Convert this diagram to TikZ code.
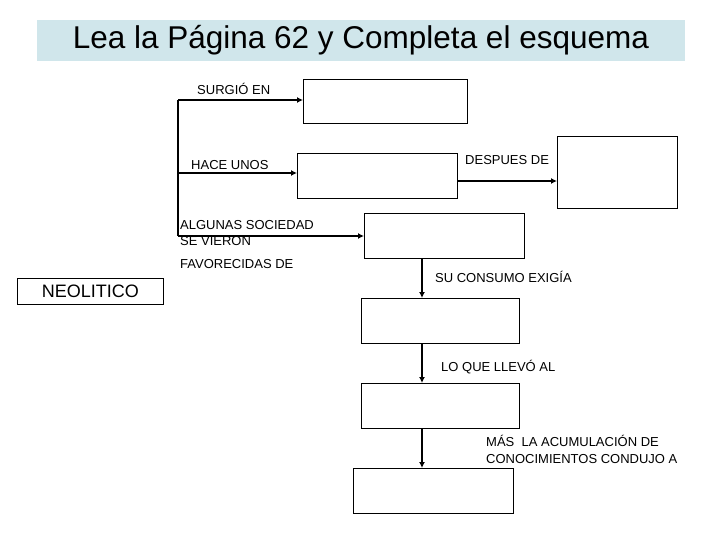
\documentclass[tikz,border=0pt]{standalone}
\usepackage{fontspec}
\setmainfont{Liberation Sans}
\usetikzlibrary{arrows.meta}
\begin{document}
\begin{tikzpicture}[x=1pt,y=-1pt,
  box/.style={draw,line width=0.8pt,inner sep=0pt,anchor=north west},
  lbl/.style={font=\fontsize{13}{15}\selectfont,inner sep=0pt,anchor=west},
  arr/.style={line width=1.3pt,-{Latex[length=6pt,width=6pt]}}]
\useasboundingbox (0,0) rectangle (720,540);
\node[box,fill={rgb,255:red,208;green,230;blue,235},draw={rgb,255:red,208;green,230;blue,235},minimum width=647pt,minimum height=40pt,font=\fontsize{31.5}{36}\selectfont] (title) at (37,20) {Lea la Página 62 y Completa el esquema};
\node[box,minimum width=164pt,minimum height=44pt] (b1) at (303,79) {};
\node[box,minimum width=160pt,minimum height=45pt] (b2) at (297,153) {};
\node[box,minimum width=120pt,minimum height=72pt] (b3) at (557,136) {};
\node[box,minimum width=160pt,minimum height=45pt] (b4) at (364,213) {};
\node[box,minimum width=158pt,minimum height=45pt] (b5) at (361,298) {};
\node[box,minimum width=158pt,minimum height=45pt] (b6) at (361,383) {};
\node[box,minimum width=160pt,minimum height=45pt] (b7) at (353,468) {};
\node[box,minimum width=146pt,minimum height=26pt,font=\fontsize{18}{20}\selectfont] (neo) at (17,278) {NEOLITICO};
\coordinate (t) at (178,100);
\coordinate (m) at (178,173);
\coordinate (e) at (178,236);
\draw[line width=1.3pt] (t) -- (e);
\draw[arr] (t) -- (b1.west |- t);
\draw[arr] (m) -- (b2.west |- m);
\draw[arr] (e) -- (b4.west |- e);
\draw[arr] (b2.east |- 0,181) -- (b3.west |- 0,181);
\draw[arr] (b4.south -| 422,0) -- (b5.north -| 422,0);
\draw[arr] (b5.south -| 422,0) -- (b6.north -| 422,0);
\draw[arr] (b6.south -| 422,0) -- (b7.north -| 422,0);
\node[lbl] (l1) at (197,89) {SURGIÓ EN};
\node[lbl] (l2) at (191,165) {HACE UNOS};
\node[lbl] (l3) at (180,225) {ALGUNAS SOCIEDAD};
\node[lbl] (l3b) at (180,241) {SE VIERON};
\node[lbl] (l3c) at (180,264) {FAVORECIDAS DE};
\node[lbl] (l4) at (465,160) {DESPUES DE};
\node[lbl] (l5) at (435,277) {SU CONSUMO EXIGÍA};
\node[lbl] (l6) at (441,367) {LO QUE LLEVÓ AL};
\node[lbl] (l7) at (486,441) {MÁS\ \ LA ACUMULACIÓN DE};
\node[lbl] (l7b) at (486,459) {CONOCIMIENTOS CONDUJO A};
\end{tikzpicture}
\end{document}
